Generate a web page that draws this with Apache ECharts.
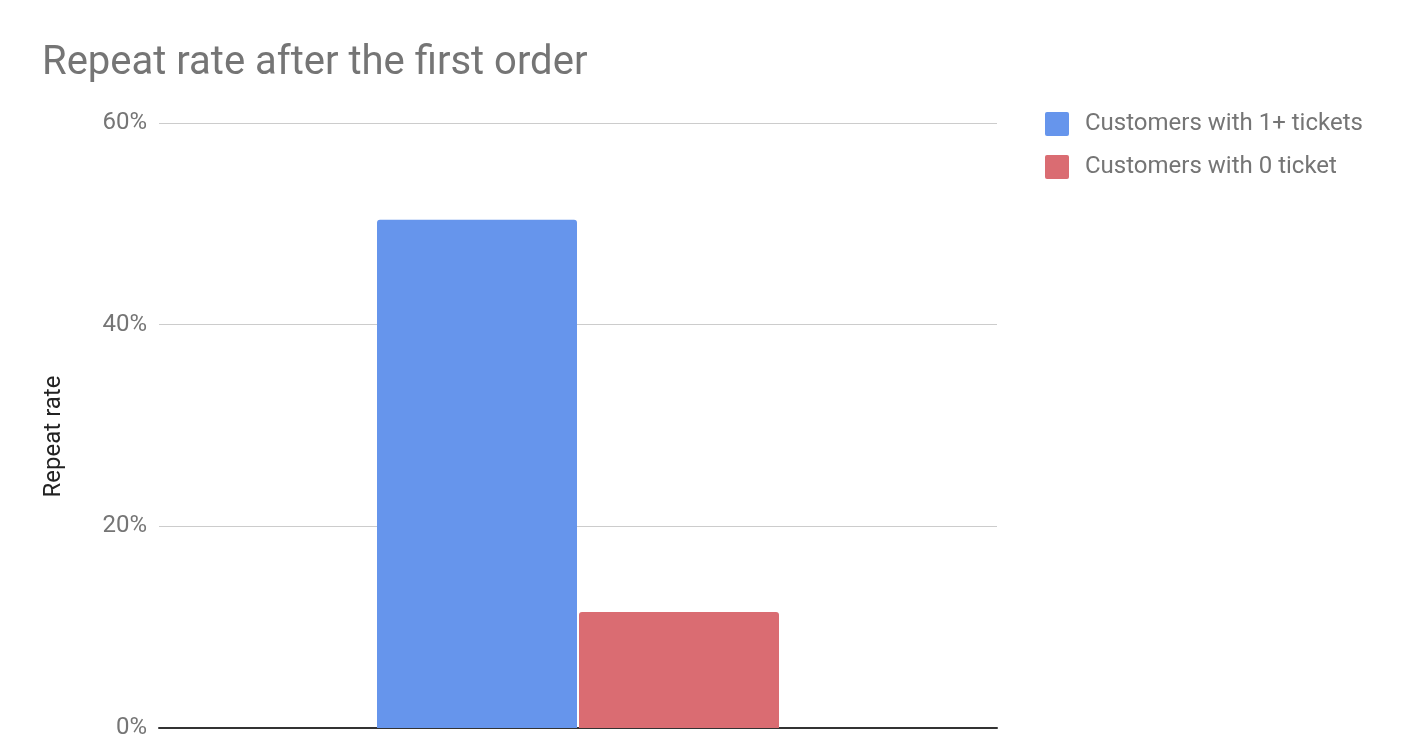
<!DOCTYPE html>
<html><head><meta charset="utf-8">
<script src="https://cdn.jsdelivr.net/npm/echarts@6/dist/echarts.min.js"></script>
<style>html,body{margin:0;padding:0;background:#fff}#c{width:1402px;height:740px}</style>
</head><body><div id="c"></div>
<script>
const categories = [''];
const seriesNames = ['Customers with 1+ tickets', 'Customers with 0 ticket'];
const ticketsValues = [50.4];
const noTicketValues = [11.5];
const yTicks = [0, 20, 40, 60];

const chart = echarts.init(document.getElementById('c'));
chart.setOption({
  animation: false,
  backgroundColor: '#fff',
  textStyle: { fontFamily: 'Roboto' },
  title: {
    text: 'Repeat rate after the first order',
    left: 37, top: 39,
    textStyle: { fontSize: 40, fontWeight: 'normal', color: '#757575', fontFamily: 'Roboto' }
  },
  legend: {
    orient: 'vertical', left: 1040, top: 107,
    itemWidth: 24, itemHeight: 24, itemGap: 19,
    icon: 'path://M2,0 L22,0 Q24,0 24,2 L24,22 Q24,24 22,24 L2,24 Q0,24 0,22 L0,2 Q0,0 2,0 Z',
    textStyle: { fontSize: 24, color: '#757575', fontFamily: 'Roboto', padding: [0, 0, 0, 11] },
    data: seriesNames
  },
  grid: { left: 159, right: 405, top: 123, bottom: 12, containLabel: false },
  xAxis: {
    type: 'category', data: categories,
    axisLine: { lineStyle: { color: '#333', width: 2 } },
    axisTick: { show: false }, axisLabel: { show: false }
  },
  yAxis: {
    type: 'value', min: yTicks[0], max: yTicks[yTicks.length - 1], interval: 20,
    name: 'Repeat rate', nameLocation: 'middle', nameGap: 93,
    nameTextStyle: { fontSize: 24, color: '#222', fontFamily: 'Roboto', padding: [0, 0, 0, -22] },
    axisLine: { show: false }, axisTick: { show: false },
    axisLabel: { formatter: '{value}%', fontSize: 24, color: '#757575', margin: 12, fontFamily: 'Roboto' },
    splitLine: { lineStyle: { color: '#ccc', width: 1 } }
  },
  series: [
    { name: seriesNames[0], type: 'bar', data: ticketsValues, barWidth: 200, barGap: '1%',
      itemStyle: { color: '#6695EC', borderRadius: [3, 3, 0, 0] } },
    { name: seriesNames[1], type: 'bar', data: noTicketValues, barWidth: 200,
      itemStyle: { color: '#DA6C72', borderRadius: [3, 3, 0, 0] } }
  ]
});
</script></body></html>
